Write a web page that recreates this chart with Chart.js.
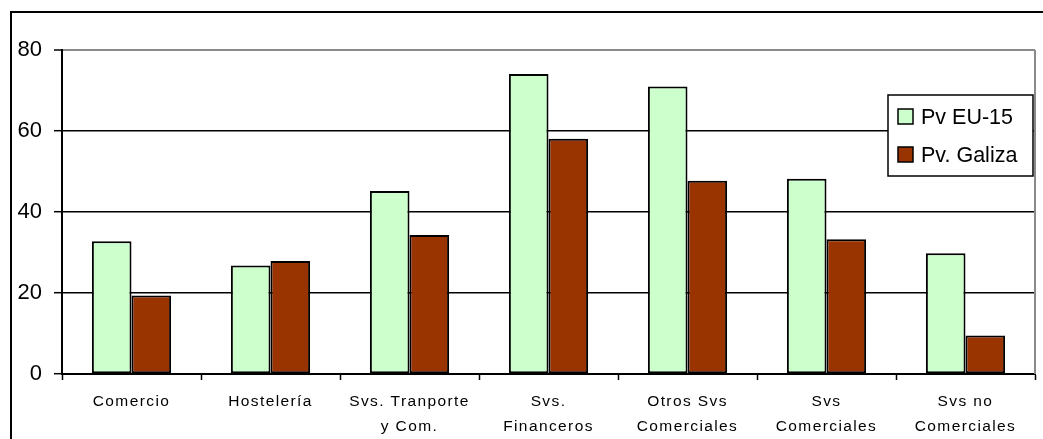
<!DOCTYPE html>
<html>
<head>
<meta charset="utf-8">
<script src="https://cdn.jsdelivr.net/npm/chart.js@4.4.0/dist/chart.umd.min.js"></script>
<style>
html,body{margin:0;padding:0;background:#fff;}
#wrap{width:1043px;height:439px;position:relative;}
</style>
</head>
<body>
<div id="wrap"><canvas id="c" width="1043" height="439"></canvas></div>
<script>
const categories = [
  ["Comercio"],
  ["Hostelería"],
  ["Svs. Tranporte", "y Com."],
  ["Svs.", "Financeros"],
  ["Otros Svs", "Comerciales"],
  ["Svs", "Comerciales"],
  ["Svs no", "Comerciales"]
];
const seriesNames = ["Pv EU-15", "Pv. Galiza"];
const pvEU15 = [32.8, 26.8, 45.2, 74.1, 71.0, 48.2, 29.8];
const pvGaliza = [19.4, 27.9, 34.3, 58.1, 47.7, 33.3, 9.5];
const yTicks = [0, 20, 40, 60, 80];
const colors = ["#CCFFCC", "#993300"];

const FONT = "'Liberation Sans', Arial, sans-serif";

const framePlugin = {
  id: 'frame',
  beforeDraw(chart) {
    const ctx = chart.ctx;
    ctx.save();
    ctx.fillStyle = '#fff';
    ctx.fillRect(0, 0, chart.width, chart.height);
    ctx.strokeStyle = '#000';
    ctx.lineWidth = 2;
    ctx.beginPath();
    ctx.moveTo(11, chart.height + 2);
    ctx.lineTo(11, 12);
    ctx.lineTo(chart.width + 2, 12);
    ctx.stroke();
    ctx.restore();
  },
  afterLayout(chart) {
    const sx = chart.scales.x;
    if (sx && !sx._spacedWrap) {
      const orig = sx.drawLabels;
      sx.drawLabels = function (ca) {
        const c = this.ctx;
        c.save();
        c.letterSpacing = '1.4px';
        orig.call(this, ca);
        c.restore();
      };
      sx._spacedWrap = true;
    }
  },
  afterDatasetsDraw(chart) {
    const ctx = chart.ctx;
    const a = chart.chartArea;
    ctx.save();
    ctx.strokeStyle = '#8a8a8a';
    ctx.lineWidth = 2;
    ctx.beginPath();
    ctx.moveTo(a.right, a.bottom);
    ctx.lineTo(a.right, a.top);
    ctx.stroke();
    // legend
    const bx = 888, by = 95, bw = 145, bh = 81;
    ctx.fillStyle = '#fff';
    ctx.fillRect(bx, by, bw, bh);
    ctx.strokeStyle = '#000';
    ctx.lineWidth = 1.5;
    ctx.strokeRect(bx, by, bw, bh);
    ctx.font = '21.5px ' + FONT;
    ctx.textBaseline = 'middle';
    ctx.textAlign = 'left';
    for (let i = 0; i < seriesNames.length; i++) {
      const cy = by + 22 + i * 38;
      ctx.fillStyle = colors[i];
      ctx.fillRect(bx + 10, cy - 8, 15, 15);
      ctx.strokeStyle = '#000';
      ctx.lineWidth = 1.5;
      ctx.strokeRect(bx + 10, cy - 8, 15, 15);
      ctx.fillStyle = '#000';
      ctx.fillText(seriesNames[i], bx + 33, cy + 1);
    }
    ctx.restore();
  }
};

new Chart(document.getElementById('c'), {
  type: 'bar',
  data: {
    labels: categories,
    datasets: [
      { label: seriesNames[0], data: pvEU15, backgroundColor: colors[0], borderColor: '#000', borderWidth: 2, borderSkipped: false },
      { label: seriesNames[1], data: pvGaliza, backgroundColor: colors[1], borderColor: '#000', borderWidth: 2, borderSkipped: false }
    ]
  },
  options: {
    responsive: false,
    animation: false,
    devicePixelRatio: 1,
    layout: { padding: { top: 50, right: 8, left: 0, bottom: 0 } },
    datasets: { bar: { categoryPercentage: 0.57, barPercentage: 1.0 } },
    plugins: { legend: { display: false }, tooltip: { enabled: false } },
    scales: {
      y: {
        min: 0, max: 80,
        afterBuildTicks(s) { s.ticks = yTicks.map(v => ({ value: v })); },
        afterFit(s) { s.width = 62; },
        ticks: { color: '#000', font: { family: FONT, size: 22 }, padding: 12 },
        grid: {
          color: (c) => (c.tick && c.tick.value === 80 ? '#8a8a8a' : '#000'),
          lineWidth: (c) => (c.tick && c.tick.value === 80 ? 2 : 1.4),
          tickColor: '#000', tickLength: 8, tickWidth: 1.5
        },
        border: { color: '#000', width: 2 }
      },
      x: {
        afterFit(s) { s.height = 65; },
        ticks: { color: '#000', font: { family: FONT, size: 15.5, lineHeight: 1.62 }, padding: 9, maxRotation: 0, autoSkip: false },
        grid: { offset: true, drawOnChartArea: false, color: '#000', tickLength: 6, tickWidth: 1.5 },
        border: { color: '#000', width: 2 }
      }
    }
  },
  plugins: [framePlugin]
});
</script>
</body>
</html>
